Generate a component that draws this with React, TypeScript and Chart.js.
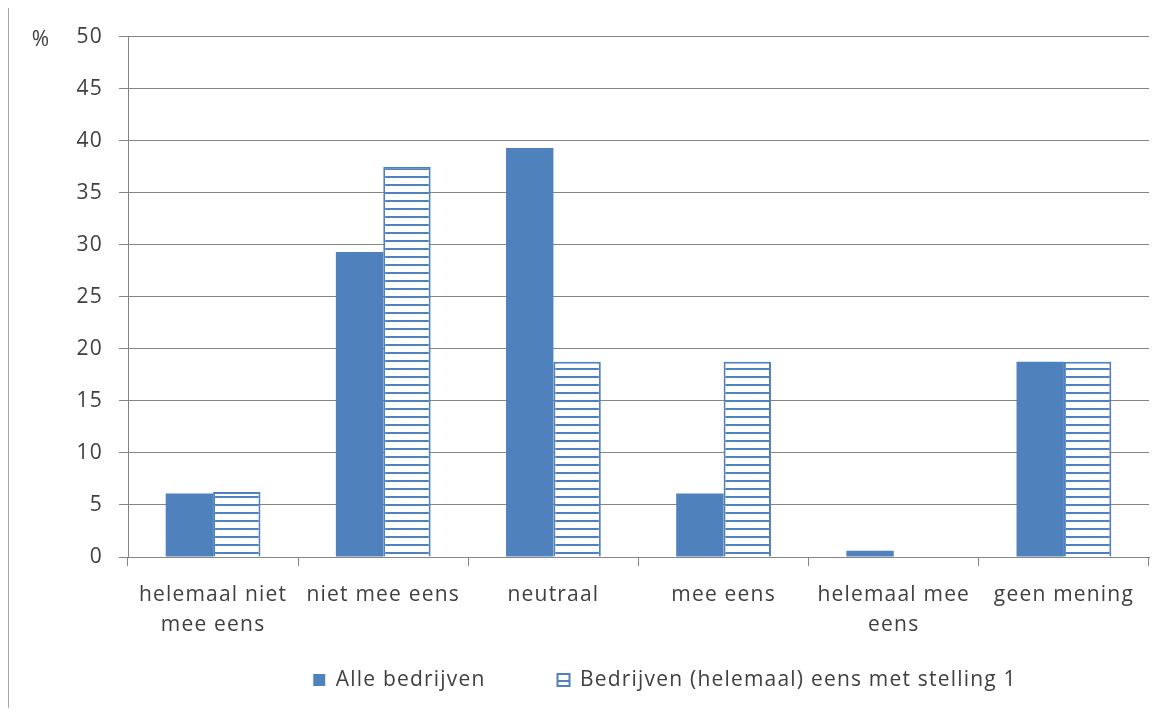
import React, { useEffect, useRef } from "react";
import { Chart, registerables } from "chart.js";

Chart.register(...registerables);

const categories: string[][] = [
  ["helemaal niet", "mee eens"],
  ["niet mee eens"],
  ["neutraal"],
  ["mee eens"],
  ["helemaal mee", "eens"],
  ["geen mening"],
];
const alleBedrijven = [6.1, 29.3, 39.3, 6.1, 0.6, 18.75];
const eensMetStelling = [6.25, 37.5, 18.75, 18.75, 0, 18.75];
const seriesNames = ["Alle bedrijven", "Bedrijven (helemaal) eens met stelling 1"];
const yMin = 0;
const yMax = 50;
const yStep = 5;

const BLUE = "#4F81BD";
const GRID = "#858585";
const TEXT = "#404040";
const FONT = "'Open Sans', sans-serif";
const FONT_SIZE = 21;
const LETTER_SPACING = "1.2px";
const LEGEND_PAD = 72;
const LEGEND_SHIFT = 47.5;

function makePattern(): CanvasPattern | string {
  const c = document.createElement("canvas");
  c.width = 8;
  c.height = 8;
  const x = c.getContext("2d");
  if (!x) return "#fff";
  x.fillStyle = "#ffffff";
  x.fillRect(0, 0, 8, 8);
  x.fillStyle = BLUE;
  x.fillRect(0, 0, 8, 2);
  const p = x.createPattern(c, "repeat");
  return p || "#fff";
}

const helperPlugin = {
  id: "helper",
  beforeInit(chart: any) {
    (chart.ctx as any).letterSpacing = LETTER_SPACING;
  },
  beforeUpdate(chart: any) {
    (chart.ctx as any).letterSpacing = LETTER_SPACING;
  },
  afterLayout(chart: any) {
    const lg = chart.legend;
    if (lg) {
      lg.top -= LEGEND_SHIFT;
      lg.bottom -= LEGEND_SHIFT;
    }
  },
  beforeDraw(chart: any) {
    (chart.ctx as any).letterSpacing = LETTER_SPACING;
  },
  afterDraw(chart: any) {
    const { ctx, chartArea } = chart;
    ctx.save();
    ctx.font = `${FONT_SIZE}px ${FONT}`;
    ctx.fillStyle = TEXT;
    ctx.textAlign = "center";
    ctx.textBaseline = "middle";
    ctx.fillText("%", chartArea.left - 87, chartArea.top + 3);
    ctx.restore();
  },
};

export default function App() {
  const ref = useRef<HTMLCanvasElement>(null);
  useEffect(() => {
    if (!ref.current) return;
    const pattern = makePattern();
    const chart = new Chart(ref.current, {
      type: "bar",
      data: {
        labels: categories,
        datasets: [
          {
            label: seriesNames[0],
            data: alleBedrijven,
            backgroundColor: BLUE,
            borderColor: BLUE,
            borderWidth: 0,
            yAxisID: "y",
          },
          {
            label: seriesNames[1],
            data: eensMetStelling,
            backgroundColor: pattern as any,
            borderColor: BLUE,
            borderWidth: 2,
            yAxisID: "y",
          },
        ],
      },
      options: {
        responsive: false,
        animation: false,
        devicePixelRatio: 1,
        layout: { padding: { top: 27, bottom: 0, left: 0, right: 0 } },
        datasets: {
          bar: { categoryPercentage: 0.557, barPercentage: 1 },
        },
        font: { family: FONT },
        plugins: {
          title: { display: false },
          tooltip: { enabled: false },
          legend: {
            position: "bottom",
            align: "center",
            labels: {
              boxWidth: 12,
              boxHeight: 12,
              padding: LEGEND_PAD,
              color: TEXT,
              font: { family: FONT, size: FONT_SIZE },
            },
          },
        },
        scales: {
          x: {
            offset: true,
            grid: {
              display: true,
              offset: true,
              drawOnChartArea: false,
              drawTicks: true,
              tickLength: 9,
              color: GRID,
            },
            border: { display: true, color: GRID },
            ticks: {
              color: TEXT,
              padding: 14,
              maxRotation: 0,
              autoSkip: false,
              font: { family: FONT, size: FONT_SIZE, lineHeight: 1.43 },
            },
            afterFit(s: any) {
              s.height = 88;
            },
          },
          y: {
            min: yMin,
            max: yMax,
            position: "left",
            grid: { color: GRID, drawTicks: true, tickLength: 9 },
            border: { display: true, color: GRID },
            ticks: {
              stepSize: yStep,
              color: TEXT,
              padding: 16,
              font: { family: FONT, size: FONT_SIZE },
            },
            afterFit(s: any) {
              s.width = 119;
            },
          },
          y2: {
            position: "right",
            display: true,
            grid: { display: false, drawTicks: false },
            border: { display: false },
            ticks: { display: false },
            afterFit(s: any) {
              s.width = 172;
            },
          },
        },
      } as any,
      plugins: [helperPlugin],
    });
    return () => chart.destroy();
  }, []);
  return (
    <div
      style={{
        position: "relative",
        width: 1150,
        height: 700,
        overflow: "hidden",
        marginTop: -1,
        borderLeft: "1px solid #a6a6a6",
        borderTop: "1px solid #a6a6a6",
        background: "#fff",
      }}
    >
      <canvas ref={ref} width={1312} height={740} style={{ display: "block" }} />
    </div>
  );
}
